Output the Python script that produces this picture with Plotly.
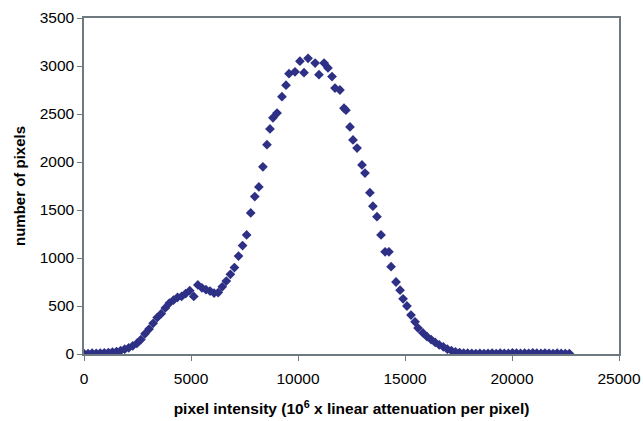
import plotly.graph_objects as go

# pixel intensity (10^6 x linear attenuation per pixel)
intensity = [
    0, 190, 380, 570, 760, 950, 1140, 1330, 1520, 1710,
    1900, 2090, 2280, 2470, 2660, 2850, 3040, 3230, 3420, 3610,
    3800, 3990, 4180, 4370, 4560, 4750, 4940, 5130, 5320, 5510,
    5700, 5890, 6080, 6270, 6460, 6650, 6840, 7030, 7220, 7410,
    7600, 7790, 7980, 8170, 8360, 8550, 8690, 8830, 9020, 9250,
    9440, 9580, 9860, 10090, 10280, 10470, 10800, 10980, 11220, 11400,
    11590, 11730, 11960, 12150, 12240, 12430, 12570, 12760, 12990, 13130,
    13360, 13500, 13690, 13880, 14070, 14250, 14350, 14580, 14770, 14910,
    15090, 15280, 15470, 15610, 15840, 16030, 16220, 16410, 16600, 16790,
    16980, 17170, 17360, 17550, 17740, 17930, 18120, 18310, 18500, 18690,
    18880, 19070, 19260, 19450, 19640, 19830, 20020, 20210, 20400, 20590,
    20780, 20970, 21160, 21350, 21540, 21730, 21920, 22110, 22300, 22490,
    22680,
]
pixel_count = [
    5, 3, 8, 6, 10, 12, 15, 20, 25, 35,
    50, 65, 85, 110, 150, 210, 260, 320, 380, 420,
    480, 530, 560, 590, 600, 630, 660, 600, 720, 690,
    670, 655, 635, 640, 700, 760, 830, 900, 1020, 1130,
    1240, 1470, 1640, 1740, 1950, 2180, 2345, 2460, 2510, 2680,
    2800, 2920, 2940, 3050, 2930, 3080, 3030, 2910, 3030, 2980,
    2890, 2770, 2750, 2560, 2540, 2365, 2230, 2145, 1970, 1885,
    1680, 1540, 1430, 1240, 1065, 1065, 910, 750, 665, 575,
    500, 405, 335, 270, 220, 180, 150, 120, 95, 75,
    50, 35, 22, 15, 10, 8, 6, 5, 7, 4,
    6, 8, 5, 10, 7, 6, 12, 8, 6, 9,
    7, 12, 8, 6, 10, 7, 5, 8, 6, 4,
    5,
]

x_ticks = [0, 5000, 10000, 15000, 20000, 25000]
y_ticks = [0, 500, 1000, 1500, 2000, 2500, 3000, 3500]

marker_color = "#2E3086"
axis_color = "#6F7A80"

fig = go.Figure(go.Scatter(
    x=intensity, y=pixel_count, mode="markers",
    marker=dict(symbol="diamond", size=7.5, color=marker_color, line=dict(width=0)),
))

font_family = "Liberation Sans, Arial, sans-serif"

fig.update_layout(
    width=643, height=421,
    margin=dict(l=84, r=24, t=18, b=67, autoexpand=False),
    paper_bgcolor="white", plot_bgcolor="white",
    showlegend=False,
    font=dict(family=font_family, size=15, color="black"),
)
fig.update_xaxes(
    automargin=False,
    range=[0, 25000], tickvals=x_ticks, ticktext=[str(v) for v in x_ticks],
    showgrid=False, zeroline=False, showline=True, linecolor=axis_color, linewidth=1.5,
    mirror=True, ticks="outside", ticklen=5, tickcolor=axis_color,
    tickfont=dict(size=15.5), ticklabelstandoff=5,
    title=dict(text="<b>pixel intensity (10<sup>6</sup> x linear attenuation per pixel)</b>",
               font=dict(size=15.5), standoff=17),
)
fig.update_yaxes(
    automargin=False,
    range=[0, 3500], tickvals=y_ticks, ticktext=[str(v) for v in y_ticks],
    showgrid=False, zeroline=False, showline=True, linecolor=axis_color, linewidth=1.5,
    mirror=True, ticks="outside", ticklen=5, tickcolor=axis_color,
    tickfont=dict(size=15.5),
    title=dict(text="<b>number of pixels</b>", font=dict(size=15), standoff=10),
)

fig.write_html("out.html")
